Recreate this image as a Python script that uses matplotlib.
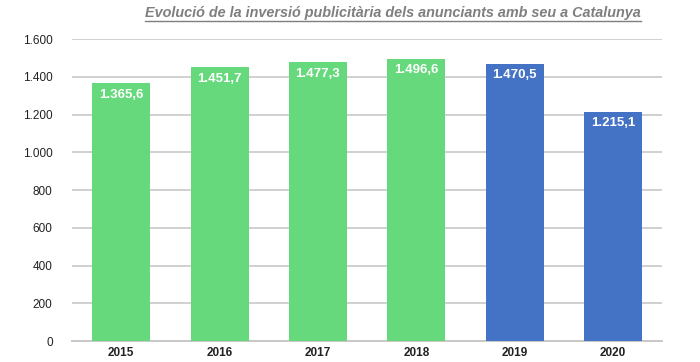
import matplotlib.pyplot as plt
from matplotlib.lines import Line2D

years = ['2015', '2016', '2017', '2018', '2019', '2020']
values = [1365.6, 1451.7, 1477.3, 1496.6, 1470.5, 1215.1]
colors = ['#66d97c'] * 4 + ['#4472c4'] * 2
yticks = [0, 200, 400, 600, 800, 1000, 1200, 1400, 1600]


def fmt(v, dec):
    s = f"{v:,.{dec}f}"
    return s.replace(',', 'X').replace('.', ',').replace('X', '.')


plt.rcParams['font.family'] = ['Liberation Sans', 'DejaVu Sans']

fig = plt.figure(figsize=(7, 3.62), dpi=100)
ax = fig.add_axes([0.103, 0.058, 0.843, 0.834])

x = range(len(years))
bars = ax.bar(x, values, width=0.59, color=colors, zorder=3)
for b, v in zip(bars, values):
    ax.text(b.get_x() + b.get_width() / 2, v - 30, fmt(v, 1), ha='center', va='top',
            color='white', fontsize=9.5, fontweight='bold', zorder=4)

ax.set_ylim(0, 1600)
ax.set_xlim(-0.5, len(years) - 0.5)
ax.set_yticks(yticks)
ax.set_yticklabels([fmt(t, 0) for t in yticks], fontsize=8.5, color='#222222')
ax.set_xticks(list(x))
ax.set_xticklabels(years, fontsize=8.5, fontweight='bold', color='#222222')
ax.tick_params(axis='both', length=0, pad=4)
ax.tick_params(axis='y', pad=14)
ax.yaxis.grid(True, color='#d0d0d0', linewidth=1.4, zorder=0)
for s in ['top', 'right', 'left']:
    ax.spines[s].set_visible(False)
ax.spines['bottom'].set_color('#c8c8c8')
ax.spines['bottom'].set_linewidth(1.4)

t = fig.text(0.561, 0.965, "Evolució de la inversió publicitària dels anunciants amb seu a Catalunya",
             ha='center', va='center', fontsize=10.4, fontstyle='italic', fontweight='bold',
             color='#7f7f7f')
fig.canvas.draw()
bb = t.get_window_extent().transformed(fig.transFigure.inverted())
fig.add_artist(Line2D([bb.x0, bb.x1], [bb.y0 - 0.004, bb.y0 - 0.004],
                      transform=fig.transFigure, color='#7f7f7f', linewidth=1))

fig.savefig('out.png', dpi=100)
